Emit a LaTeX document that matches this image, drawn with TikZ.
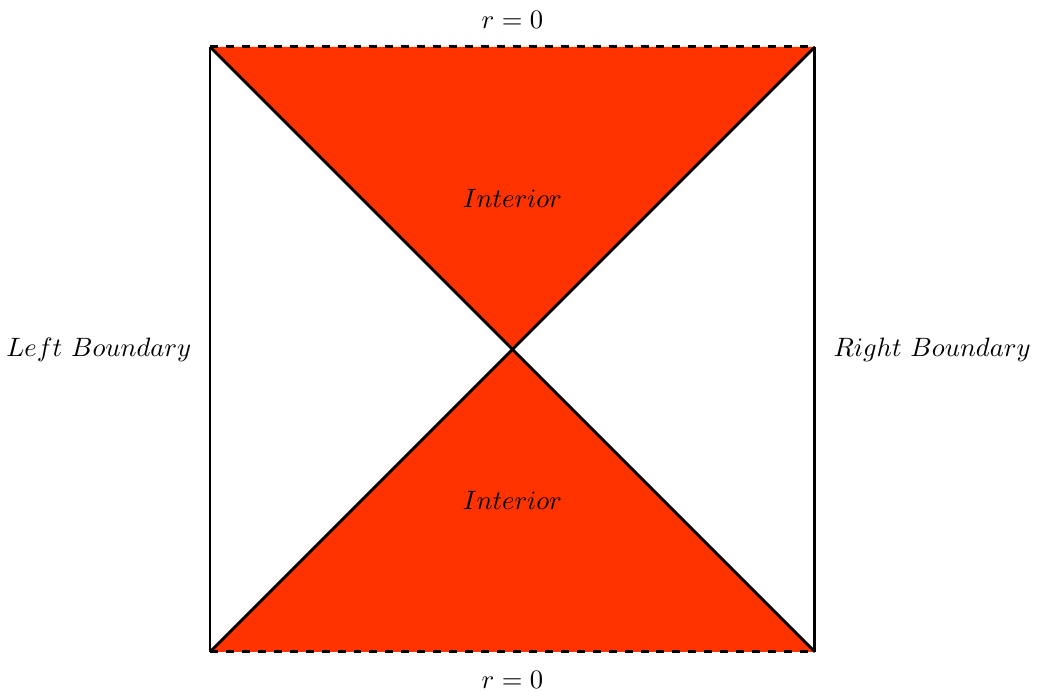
\documentclass[tikz,border=0pt]{standalone}
\definecolor{interior}{RGB}{255,51,0}
\begin{document}
\begin{tikzpicture}
\useasboundingbox (-2.777,-0.52) rectangle (10.95,8.62);
\tikzset{edge/.style={line width=1.1pt}, lbl/.style={inner sep=0pt}}
\coordinate (bl) at (0,0);
\coordinate (br) at (8,0);
\coordinate (tl) at (0,8);
\coordinate (tr) at (8,8);
\coordinate (c) at (4,4);
\fill[interior] (tl) -- (tr) -- (c) -- cycle;
\fill[interior] (bl) -- (br) -- (c) -- cycle;
\draw[edge] (tl) -- (bl);
\draw[edge] (tr) -- (br);
\draw[edge] (tl) -- (br);
\draw[edge] (tr) -- (bl);
\draw[edge, dashed] (tl) -- (tr);
\draw[edge, dashed] (bl) -- (br);
\node[lbl] (top) at (4,8.36) {$r=0$};
\node[lbl] (bot) at (4,-0.37) {$r=0$};
\node[lbl] (i1) at (4,6.0) {$Interior$};
\node[lbl] (i2) at (4,2.0) {$Interior$};
\node[lbl, anchor=east] (lb) at (-0.24,4) {$Left\ Boundary$};
\node[lbl, anchor=west] (rb) at (8.24,4) {$Right\ Boundary$};
\end{tikzpicture}
\end{document}
